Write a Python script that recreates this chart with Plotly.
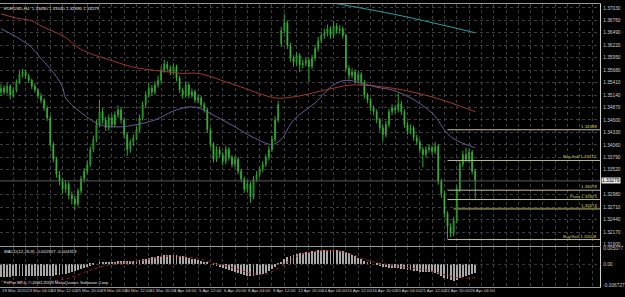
import plotly.graph_objects as go

# ---------------- data ----------------
bar_index = list(range(155))

open_ = [
    1.3520, 1.3529, 1.3521, 1.3533, 1.3514, 1.3525, 1.3542, 1.3559, 1.3564, 1.3555,
    1.3546, 1.3533, 1.3525, 1.3512, 1.3503, 1.3486, 1.3465, 1.3407, 1.3375, 1.3342,
    1.3327, 1.3310, 1.3321, 1.3297, 1.3289, 1.3278, 1.3306, 1.3332, 1.3349, 1.3364,
    1.3396, 1.3418, 1.3450, 1.3478, 1.3460, 1.3443, 1.3465, 1.3450, 1.3471, 1.3482,
    1.3460, 1.3428, 1.3396, 1.3411, 1.3422, 1.3439, 1.3465, 1.3493, 1.3514, 1.3529,
    1.3521, 1.3536, 1.3546, 1.3568, 1.3581, 1.3572, 1.3564, 1.3576, 1.3551, 1.3525,
    1.3514, 1.3536, 1.3514, 1.3521, 1.3503, 1.3508, 1.3493, 1.3482, 1.3439, 1.3407,
    1.3375, 1.3396, 1.3385, 1.3370, 1.3396, 1.3379, 1.3364, 1.3375, 1.3349, 1.3332,
    1.3310, 1.3321, 1.3293, 1.3332, 1.3342, 1.3353, 1.3364, 1.3379, 1.3396, 1.3418,
    1.3460, 1.3625, 1.3654, 1.3671, 1.3621, 1.3594, 1.3585, 1.3600, 1.3579, 1.3583,
    1.3589, 1.3576, 1.3594, 1.3615, 1.3632, 1.3643, 1.3649, 1.3658, 1.3643, 1.3664,
    1.3654, 1.3658, 1.3643, 1.3572, 1.3557, 1.3564, 1.3546, 1.3559, 1.3542, 1.3514,
    1.3503, 1.3486, 1.3478, 1.3460, 1.3443, 1.3428, 1.3450, 1.3478, 1.3486, 1.3482,
    1.3495, 1.3478, 1.3450, 1.3435, 1.3443, 1.3422, 1.3413, 1.3396, 1.3385, 1.3396,
    1.3400, 1.3392, 1.3403, 1.3327, 1.3300, 1.3257, 1.3229, 1.3214, 1.3242, 1.3310,
    1.3364, 1.3385, 1.3375, 1.3390, 1.3349]

high = [
    1.3538, 1.3535, 1.3540, 1.3537, 1.3531, 1.3548, 1.3566, 1.3571, 1.3569, 1.3560,
    1.3550, 1.3540, 1.3529, 1.3518, 1.3507, 1.3490, 1.3470, 1.3413, 1.3380, 1.3350,
    1.3334, 1.3330, 1.3326, 1.3305, 1.3296, 1.3312, 1.3339, 1.3356, 1.3372, 1.3403,
    1.3426, 1.3460, 1.3504, 1.3486, 1.3467, 1.3472, 1.3473, 1.3479, 1.3492, 1.3487,
    1.3465, 1.3432, 1.3418, 1.3429, 1.3446, 1.3472, 1.3500, 1.3522, 1.3540, 1.3536,
    1.3544, 1.3556, 1.3576, 1.3590, 1.3587, 1.3578, 1.3583, 1.3580, 1.3556, 1.3530,
    1.3544, 1.3541, 1.3528, 1.3526, 1.3515, 1.3513, 1.3499, 1.3487, 1.3444, 1.3412,
    1.3403, 1.3402, 1.3390, 1.3404, 1.3401, 1.3384, 1.3382, 1.3380, 1.3354, 1.3337,
    1.3328, 1.3326, 1.3338, 1.3349, 1.3360, 1.3371, 1.3386, 1.3404, 1.3426, 1.3468,
    1.3502, 1.3662, 1.3690, 1.3676, 1.3627, 1.3600, 1.3607, 1.3605, 1.3591, 1.3596,
    1.3594, 1.3601, 1.3622, 1.3640, 1.3651, 1.3658, 1.3667, 1.3663, 1.3675, 1.3670,
    1.3666, 1.3663, 1.3648, 1.3578, 1.3572, 1.3569, 1.3566, 1.3564, 1.3547, 1.3519,
    1.3508, 1.3492, 1.3483, 1.3465, 1.3449, 1.3458, 1.3485, 1.3494, 1.3492, 1.3518,
    1.3501, 1.3483, 1.3456, 1.3450, 1.3448, 1.3428, 1.3418, 1.3402, 1.3403, 1.3408,
    1.3405, 1.3413, 1.3408, 1.3333, 1.3306, 1.3262, 1.3236, 1.3250, 1.3318, 1.3372,
    1.3393, 1.3400, 1.3398, 1.3395, 1.3354]

low = [
    1.3512, 1.3514, 1.3516, 1.3505, 1.3508, 1.3520, 1.3538, 1.3552, 1.3549, 1.3540,
    1.3527, 1.3519, 1.3506, 1.3496, 1.3480, 1.3458, 1.3400, 1.3368, 1.3335, 1.3318,
    1.3300, 1.3302, 1.3288, 1.3277, 1.3266, 1.3272, 1.3300, 1.3325, 1.3342, 1.3358,
    1.3390, 1.3412, 1.3444, 1.3452, 1.3436, 1.3437, 1.3443, 1.3444, 1.3464, 1.3452,
    1.3420, 1.3382, 1.3389, 1.3404, 1.3416, 1.3433, 1.3459, 1.3487, 1.3508, 1.3512,
    1.3515, 1.3530, 1.3540, 1.3562, 1.3565, 1.3557, 1.3558, 1.3544, 1.3518, 1.3506,
    1.3508, 1.3507, 1.3508, 1.3497, 1.3496, 1.3487, 1.3476, 1.3432, 1.3400, 1.3368,
    1.3369, 1.3378, 1.3362, 1.3364, 1.3372, 1.3357, 1.3358, 1.3342, 1.3325, 1.3302,
    1.3303, 1.3280, 1.3288, 1.3326, 1.3336, 1.3347, 1.3358, 1.3372, 1.3390, 1.3412,
    1.3455, 1.3618, 1.3648, 1.3614, 1.3586, 1.3575, 1.3578, 1.3564, 1.3572, 1.3576,
    1.3542, 1.3570, 1.3588, 1.3608, 1.3626, 1.3636, 1.3641, 1.3636, 1.3637, 1.3647,
    1.3646, 1.3636, 1.3565, 1.3548, 1.3550, 1.3539, 1.3540, 1.3535, 1.3507, 1.3496,
    1.3479, 1.3470, 1.3453, 1.3435, 1.3413, 1.3422, 1.3444, 1.3471, 1.3474, 1.3476,
    1.3471, 1.3443, 1.3428, 1.3429, 1.3415, 1.3406, 1.3388, 1.3357, 1.3378, 1.3389,
    1.3385, 1.3386, 1.3320, 1.3291, 1.3248, 1.3203, 1.3206, 1.3208, 1.3236, 1.3303,
    1.3358, 1.3368, 1.3368, 1.3342, 1.3289]

close = [
    1.3529, 1.3521, 1.3533, 1.3514, 1.3525, 1.3542, 1.3559, 1.3564, 1.3555, 1.3546,
    1.3533, 1.3525, 1.3512, 1.3503, 1.3486, 1.3465, 1.3407, 1.3375, 1.3342, 1.3327,
    1.3310, 1.3321, 1.3297, 1.3289, 1.3278, 1.3306, 1.3332, 1.3349, 1.3364, 1.3396,
    1.3418, 1.3450, 1.3478, 1.3460, 1.3443, 1.3465, 1.3450, 1.3471, 1.3482, 1.3460,
    1.3428, 1.3396, 1.3411, 1.3422, 1.3439, 1.3465, 1.3493, 1.3514, 1.3529, 1.3521,
    1.3536, 1.3546, 1.3568, 1.3581, 1.3572, 1.3564, 1.3576, 1.3551, 1.3525, 1.3514,
    1.3536, 1.3514, 1.3521, 1.3503, 1.3508, 1.3493, 1.3482, 1.3439, 1.3407, 1.3375,
    1.3396, 1.3385, 1.3370, 1.3396, 1.3379, 1.3364, 1.3375, 1.3349, 1.3332, 1.3310,
    1.3321, 1.3293, 1.3332, 1.3342, 1.3353, 1.3364, 1.3379, 1.3396, 1.3418, 1.3460,
    1.3493, 1.3654, 1.3671, 1.3621, 1.3594, 1.3585, 1.3600, 1.3579, 1.3583, 1.3589,
    1.3576, 1.3594, 1.3615, 1.3632, 1.3643, 1.3649, 1.3658, 1.3643, 1.3664, 1.3654,
    1.3658, 1.3643, 1.3572, 1.3557, 1.3564, 1.3546, 1.3559, 1.3542, 1.3514, 1.3503,
    1.3486, 1.3478, 1.3460, 1.3443, 1.3428, 1.3450, 1.3478, 1.3486, 1.3482, 1.3495,
    1.3478, 1.3450, 1.3435, 1.3443, 1.3422, 1.3413, 1.3396, 1.3385, 1.3396, 1.3400,
    1.3392, 1.3403, 1.3327, 1.3300, 1.3257, 1.3229, 1.3214, 1.3242, 1.3310, 1.3364,
    1.3385, 1.3375, 1.3390, 1.3349, 1.33279]

# moving averages (read at sample bars)
ma_slow_index = [0, 5, 10, 13, 18, 21, 25, 29, 35, 41, 45, 52, 59, 64, 76, 89, 95, 108, 114, 127, 140, 154]
ma_slow_value = [1.3690, 1.3681, 1.3675, 1.3664, 1.3649, 1.3639, 1.3617, 1.3604, 1.3591, 1.3578, 1.3572,
                 1.3566, 1.3561, 1.3561, 1.3536, 1.3508, 1.3510, 1.3529, 1.3536, 1.3529, 1.3510, 1.3478]

ma_mid_index = [0, 6, 10, 13, 17, 20, 21, 27, 32, 38, 44, 50, 57, 63, 70, 76, 82, 88, 91, 95,
                102, 108, 112, 117, 122, 127, 133, 140, 146, 154]
ma_mid_value = [1.3658, 1.3636, 1.3617, 1.3593, 1.3563, 1.3531, 1.3508, 1.3471, 1.3450, 1.3445,
                1.3450, 1.3460, 1.3482, 1.3488, 1.3467, 1.3445, 1.3422, 1.3407, 1.3418, 1.3460,
                1.3497, 1.3536, 1.3546, 1.3540, 1.3531, 1.3525, 1.3508, 1.3475, 1.3424, 1.3400]

ma_long_index = [100, 106, 127, 140, 154]
ma_long_value = [1.3724, 1.3716, 1.3690, 1.3671, 1.3649]

# support / resistance levels
level_value = [1.34388, 1.33722, 1.33078, 1.32875, 1.32674, 1.32008]
level_prefix = ["", "Buy Sell ", "", "Pivot ", "", "Buy/Sell "]
level_start = [145, 145, 145, 145, 147, 145]

# MACD
macd_hist = [
    -0.00416, -0.00416, -0.00416, -0.00416, -0.00384, -0.00384, -0.00384, -0.00384, -0.00384, -0.00384,
    -0.00384, -0.00384, -0.00384, -0.00384, -0.00384, -0.00384, -0.00384, -0.00384, -0.00352, -0.00352,
    -0.00320, -0.00320, -0.00288, -0.00256, -0.00224, -0.00192, -0.00160, -0.00128, -0.00096, -0.00064,
    -0.00032, 0.00000, 0.00032, 0.00032, 0.00064, 0.00064, 0.00064, 0.00064, 0.00096, 0.00096,
    0.00096, 0.00096, 0.00096, 0.00096, 0.00096, 0.00128, 0.00160, 0.00160, 0.00192, 0.00224,
    0.00224, 0.00256, 0.00256, 0.00288, 0.00288, 0.00288, 0.00288, 0.00288, 0.00256, 0.00256,
    0.00224, 0.00192, 0.00160, 0.00160, 0.00128, 0.00096, 0.00064, 0.00032, 0.00000, -0.00032,
    -0.00064, -0.00096, -0.00128, -0.00160, -0.00192, -0.00224, -0.00256, -0.00288, -0.00320, -0.00352,
    -0.00384, -0.00384, -0.00384, -0.00352, -0.00352, -0.00320, -0.00288, -0.00224, -0.00160, -0.00096,
    -0.00032, 0.00064, 0.00160, 0.00224, 0.00256, 0.00288, 0.00320, 0.00352, 0.00352, 0.00384,
    0.00384, 0.00416, 0.00416, 0.00448, 0.00448, 0.00448, 0.00448, 0.00448, 0.00448, 0.00448,
    0.00416, 0.00416, 0.00384, 0.00352, 0.00288, 0.00256, 0.00192, 0.00160, 0.00096, 0.00064,
    0.00032, 0.00000, -0.00032, -0.00064, -0.00096, -0.00096, -0.00128, -0.00128, -0.00128, -0.00128,
    -0.00160, -0.00160, -0.00192, -0.00192, -0.00224, -0.00224, -0.00256, -0.00256, -0.00256, -0.00256,
    -0.00256, -0.00288, -0.00320, -0.00384, -0.00448, -0.00480, -0.00512, -0.00544, -0.00512, -0.00448,
    -0.00416, -0.00384, -0.00352, -0.00320, -0.002907]

signal_index = [0, 9, 16, 22, 28, 32, 36, 41, 48, 52, 57, 64, 68, 76, 81, 86, 91, 96, 102, 108,
                113, 119, 127, 140, 147, 151, 154]
signal_value = [-0.00544, -0.00608, -0.00544, -0.00448, -0.00224, -0.00096, 0.00000, 0.00064, 0.00160,
                0.00256, 0.00256, 0.00192, 0.00064, -0.00128, -0.00288, -0.00320, -0.00064, 0.00256,
                0.00416, 0.00448, 0.00352, 0.00128, -0.00032, -0.00224, -0.00416, -0.00448, -0.004319]

# axis ticks
price_ticks = [1.3190, 1.3217, 1.3244, 1.3271, 1.3298, 1.3352, 1.3379, 1.3406, 1.3433, 1.3460,
               1.3487, 1.3514, 1.3541, 1.3568, 1.3595, 1.3622, 1.3649, 1.3676, 1.3703]
macd_ticks = [0.005077, 0.0, -0.006727]
macd_tick_text = ["0.005077", "0.00", "-0.006727"]
date_tick_index = [0, 8, 16, 24, 32, 40, 48, 56, 64, 72, 80, 88, 96, 104, 112, 120, 128, 136, 144, 152]
date_tick_text = ["19 Mar 2010", "23 Mar 04:00", "24 Mar 12:00", "25 Mar 20:00", "29 Mar 04:00",
                  "30 Mar 12:00", "31 Mar 20:00", "2 Apr 04:00", "5 Apr 12:00", "6 Apr 20:00",
                  "8 Apr 04:00", "9 Apr 12:00", "12 Apr 20:00", "14 Apr 04:00", "15 Apr 12:00",
                  "16 Apr 20:00", "20 Apr 04:00", "21 Apr 12:00", "22 Apr 20:00", "26 Apr 04:00"]

# ---------------- figure ----------------
W, H = 625, 297
FONT = "Liberation Sans"
TXT = "#cccccc"
GREEN = "#2aa82a"
GRID = "#3e3e3e"
FS = 4.4
FS_AX = 4.8

x_range = [-0.32, 194.6]
price_range = [1.31879, 1.37115]
macd_range = [-0.00736, 0.00544]

fig = go.Figure()

fig.add_trace(go.Candlestick(
    x=bar_index, open=open_, high=high, low=low, close=close,
    increasing=dict(line=dict(color=GREEN, width=1), fillcolor="#000000"),
    decreasing=dict(line=dict(color=GREEN, width=1), fillcolor="#e8f6e8"),
    whiskerwidth=0, xaxis="x", yaxis="y", hoverinfo="skip"))

fig.add_trace(go.Scatter(x=ma_slow_index, y=ma_slow_value, mode="lines",
                         line=dict(color="#9e3b29", width=1, shape="spline"), xaxis="x", yaxis="y"))
fig.add_trace(go.Scatter(x=ma_mid_index, y=ma_mid_value, mode="lines",
                         line=dict(color="#6a5c94", width=1, shape="spline"), xaxis="x", yaxis="y"))
fig.add_trace(go.Scatter(x=ma_long_index, y=ma_long_value, mode="lines",
                         line=dict(color="#2a9f9f", width=1, shape="spline"), xaxis="x", yaxis="y"))

level_colors = ["#c4c4a0", "#b8b88c", "#c0c0a0", "#c4c4a4", "#6e6e3c", "#c0c0a0"]
level_widths = [1, 1, 1, 1, 2, 1]
for v, s, c, w in zip(level_value, level_start, level_colors, level_widths):
    fig.add_trace(go.Scatter(x=[s, x_range[1]], y=[v, v], mode="lines",
                             line=dict(color=c, width=w), xaxis="x", yaxis="y"))

# current price line
fig.add_trace(go.Scatter(x=x_range, y=[close[-1], close[-1]], mode="lines",
                         line=dict(color="#5e5e5e", width=1), xaxis="x", yaxis="y"))

# MACD
fig.add_trace(go.Bar(x=bar_index, y=macd_hist, width=0.28,
                     marker=dict(color="#a8a8a8", line=dict(width=0)), xaxis="x2", yaxis="y2"))
fig.add_trace(go.Scatter(x=signal_index, y=signal_value, mode="lines",
                         line=dict(color="#a01c1c", width=1, dash="dot", shape="spline"),
                         xaxis="x2", yaxis="y2"))

annotations = []
for v, p in zip(level_value, level_prefix):
    annotations.append(dict(x=608 / W, xref="paper", y=v, yref="y", xanchor="right", yanchor="bottom",
                            text=f"{p}{v:.5f}", showarrow=False, borderpad=0,
                            font=dict(family=FONT, size=FS, color="#d2d25a")))
annotations.append(dict(x=611 / W, xref="paper", y=close[-1], yref="y", xanchor="left", yanchor="middle",
                        text=f"{close[-1]:.5f}", showarrow=False, bgcolor="#e6e6e6", borderpad=0,
                        font=dict(family=FONT, size=FS_AX, color="#000000")))
for i, t in zip(date_tick_index, date_tick_text):
    annotations.append(dict(x=i, xref="x2", y=1 - 292.5 / H, yref="paper", xanchor="left",
                            yanchor="middle", text=t, showarrow=False, borderpad=0,
                            font=dict(family=FONT, size=FS, color=TXT)))
annotations.append(dict(x=3 / W, xref="paper", y=1 - 8 / H, yref="paper", xanchor="left", yanchor="middle",
                        text=f"EURUSD,H4  {open_[-1]:.5f} {high[-1]:.5f} {low[-1]:.5f} {close[-1]:.5f}",
                        showarrow=False, borderpad=0, font=dict(family=FONT, size=FS, color="#e0e0e0")))
annotations.append(dict(x=3 / W, xref="paper", y=1 - 253 / H, yref="paper", xanchor="left", yanchor="middle",
                        text=f"MACD(12,26,9) {macd_hist[-1]:.6f} {signal_value[-1]:.6f}",
                        showarrow=False, borderpad=0, font=dict(family=FONT, size=FS, color="#e0e0e0")))
annotations.append(dict(x=3 / W, xref="paper", y=1 - 284.5 / H, yref="paper", xanchor="left", yanchor="middle",
                        text="FxPro MT4, © 2001-2009 MetaQuotes Software Corp.",
                        showarrow=False, borderpad=0, font=dict(family=FONT, size=FS, color="#e0e0e0")))

xdom = [0, 610 / W]
fig.update_layout(
    width=W, height=H, margin=dict(l=0, r=0, t=0, b=0),
    paper_bgcolor="#000000", plot_bgcolor="#000000",
    showlegend=False, boxgap=0.62, bargap=0,
    font=dict(family=FONT, size=FS, color=TXT),
    annotations=annotations,
    xaxis=dict(domain=xdom, range=x_range, anchor="y", rangeslider=dict(visible=False),
               showgrid=True, gridcolor=GRID, griddash="dot", gridwidth=1, tick0=0, dtick=4,
               showticklabels=False, ticks="", zeroline=False,
               showline=True, linecolor="#9a9a9a", linewidth=1, mirror=True),
    yaxis=dict(domain=[1 - 247 / H, 1 - 3 / H], range=price_range, side="right", anchor="x",
               tickmode="array", tickvals=price_ticks, ticktext=[f"{v:.5f}" for v in price_ticks],
               showgrid=True, gridcolor=GRID, griddash="dot", gridwidth=1, zeroline=False,
               ticks="", ticklabelstandoff=1,
               tickfont=dict(family=FONT, size=FS_AX, color=TXT),
               showline=True, linecolor="#d0d0d0", linewidth=1),
    xaxis2=dict(domain=xdom, range=x_range, anchor="y2", matches="x",
                showgrid=True, gridcolor=GRID, griddash="dot", gridwidth=1, tick0=0, dtick=4,
                showticklabels=False, ticks="", zeroline=False,
                showline=True, linecolor="#9a9a9a", linewidth=1, mirror=True),
    yaxis2=dict(domain=[1 - 289 / H, 1 - 249 / H], range=macd_range, side="right", anchor="x2",
                tickmode="array", tickvals=macd_ticks, ticktext=macd_tick_text,
                showgrid=False, zeroline=False, ticks="", ticklabelstandoff=1,
                tickfont=dict(family=FONT, size=FS_AX, color=TXT),
                showline=True, linecolor="#d0d0d0", linewidth=1),
    shapes=[dict(type="line", xref="x2 domain", yref="y2", x0=0, x1=1, y0=0, y1=0,
                 line=dict(color=GRID, width=1, dash="dot"))],
)

fig.write_html("out.html")
